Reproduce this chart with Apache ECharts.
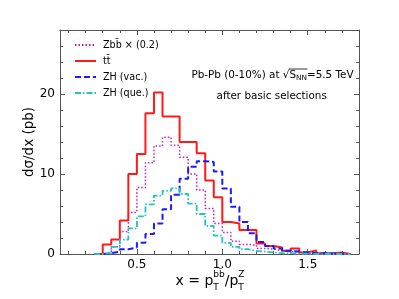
<!DOCTYPE html>
<html><head><meta charset="utf-8">
<script src="https://cdn.jsdelivr.net/npm/echarts@6/dist/echarts.min.js"></script>
<style>html,body{margin:0;padding:0;background:#fff}#c{width:399px;height:299px}</style>
</head><body><div id="c"></div>
<script>
// ---- data (bin starts, width 0.05) ----
const binStarts = [0.25,0.30,0.35,0.40,0.45,0.50,0.55,0.60,0.65,0.70,0.75,0.80,0.85,0.90,0.95,1.00,1.05,1.10,1.15,1.20,1.25,1.30,1.35,1.40,1.45,1.50,1.55,1.60,1.65,1.70];
const binEnd = 1.75;
const zbbScaled = [0,0.2,0.9,2.8,5.2,8.3,11.4,13.5,14.6,13.6,12.1,10.0,8.0,5.7,3.8,2.7,1.6,1.2,1.1,0.7,0.6,0.4,0.3,0.2,0.1,0.1,0.05,0.05,0,0];
const ttbar     = [0,1.2,1.8,4.2,10.0,12.5,17.6,20.2,17.2,17.2,14.0,14.0,12.6,9.2,7.1,4.0,3.8,3.0,3.0,1.3,1.0,0.8,0.4,0.7,0.2,0.45,0.1,0.1,0.2,0];
const zhVac     = [0,0.1,0.3,0.6,0.8,1.4,2.5,3.8,5.6,7.4,9.4,10.9,11.6,11.5,10.3,8.2,5.9,4.0,2.6,1.5,1.0,0.7,0.4,0.3,0.2,0.1,0.1,0.05,0.05,0];
const zhQue     = [0,0.1,0.9,1.8,3.2,4.7,6.2,7.3,7.9,8.2,7.5,6.3,5.0,3.5,2.3,1.4,0.9,0.6,0.4,0.3,0.2,0.1,0.1,0.05,0.05,0,0,0,0,0];
const seriesNames = ['Zbb\u0304 \u00d7 (0.2)', 'tt\u0304', 'ZH (vac.)', 'ZH (que.)'];
const xRange = [0.05, 1.8];
const yRange = [0, 28];
const yTickStep = 10;
const xTickStep = 0.5;
const yTitle = 'd\u03c3/dx (pb)';
const annot1 = ['Pb-Pb (0-10%) at ', '\u221A', 'S', 'NN', '=5.5 TeV'];
const annot2 = 'after basic selections';

function hist(vals){
  const pts = binStarts.map((x,i)=>[x, vals[i]]);
  pts.push([binEnd, 0]);
  return pts;
}

const mc = document.createElement('canvas').getContext('2d');
function tw(s, size){ mc.font = size + 'px "DejaVu Sans"'; return mc.measureText(s).width; }
function T(x, y, s, size, opt){
  opt = opt || {};
  return {type:'text', x:x, y:y, rotation: opt.rotation || 0, silent:true, z:100,
    style:{text:s, fontSize:size, fontFamily:'DejaVu Sans', fill:'#000', align: opt.align || 'left', verticalAlign: 'middle'}};
}
const graphics = [];
const AF = 10.4;
// annotation line 1
(function(){
  const parts = [[annot1[0],AF,0],[annot1[1],AF,0],[annot1[2],AF,0],[annot1[3],7.3,2.6],[annot1[4],AF,0]];
  const tot = parts.reduce((a,p)=>a+tw(p[0],p[1]),0);
  let cx = 272.5 - tot/2, sStart = 0, nnEnd = 0;
  parts.forEach((p,i)=>{
    if(i===2) sStart = cx;
    graphics.push(T(cx, 75.7 + p[2], p[0], p[1]));
    cx += tw(p[0],p[1]);
    if(i===3) nnEnd = cx;
  });
  graphics.push({type:'line', silent:true, z:100, shape:{x1:sStart-0.5, y1:69.0, x2:nnEnd+0.5, y2:69.0}, style:{stroke:'#000', lineWidth:0.8}});
  graphics.push(T(271.7, 96.3, annot2, AF, {align:'center'}));
})();
// x axis title: x = p_T^{bb̄} / p_T^Z
(function(){
  const M = 14, S = 9;
  const a = 'x = p', sup1 = 'bb\u0304', sub = 'T', b = '/p', sup2 = 'Z';
  const w1 = Math.max(tw(sup1,S), tw(sub,S)), w2 = Math.max(tw(sup2,S), tw(sub,S));
  const tot = tw(a,M) + w1 + tw(b,M) + w2;
  let cx = 210 - tot/2;
  const ym = 281, ysup = 274.5, ysub = 287.5;
  graphics.push(T(cx, ym, a, M)); cx += tw(a,M);
  graphics.push(T(cx, ysup, sup1, S)); graphics.push(T(cx, ysub, sub, S)); cx += w1;
  graphics.push(T(cx, ym, b, M)); cx += tw(b,M);
  graphics.push(T(cx, ysup, sup2, S)); graphics.push(T(cx, ysub, sub, S));
})();
graphics.push(T(29, 142, yTitle, 13.5, {align:'center', rotation: Math.PI/2}));

const axisLineStyle = {color:'#555', width:1};
function xAx(pos, showLabel){
  return {type:'value', position:pos, min:xRange[0], max:xRange[1], splitNumber:4, minInterval:xTickStep, maxInterval:xTickStep,
    axisLine:{show:true, onZero:false, lineStyle:axisLineStyle},
    axisTick:{show:true, inside:true, length:5, lineStyle:{color:'#555'}},
    minorTick:{show:true, splitNumber:5, length:3, lineStyle:{color:'#555'}},
    splitLine:{show:false}, minorSplitLine:{show:false},
    axisLabel:{show:showLabel, showMinLabel:false, showMaxLabel:false, color:'#000', fontSize:12, fontFamily:'DejaVu Sans', margin:5,
      formatter:(v)=>v.toFixed(1)}};
}
function yAx(pos, showLabel){
  return {type:'value', position:pos, min:yRange[0], max:yRange[1], interval:yTickStep,
    axisLine:{show:true, onZero:false, lineStyle:axisLineStyle},
    axisTick:{show:true, inside:true, length:5, lineStyle:{color:'#555'}},
    minorTick:{show:true, splitNumber:5, length:3, lineStyle:{color:'#555'}},
    splitLine:{show:false}, minorSplitLine:{show:false},
    axisLabel:{show:showLabel, showMaxLabel:false, color:'#000', fontSize:12, fontFamily:'DejaVu Sans', margin:5}};
}
function ser(name, vals, color, width, type){
  return {type:'line', name:name, step:'end', data:hist(vals), symbol:'none', showSymbol:false,
    lineStyle:{color:color, width:width, type:type}, itemStyle:{color:color}, clip:true, animation:false};
}
const chart = echarts.init(document.getElementById('c'), null, {renderer:'canvas'});
chart.setOption({
  animation:false,
  backgroundColor:'#fff',
  grid:{left:60, right:40, top:30, bottom:45, containLabel:false},
  xAxis:[xAx('bottom', true), xAx('top', false)],
  yAxis:[yAx('left', true), yAx('right', false)],
  legend:{orient:'vertical', left:69, top:35, itemWidth:21, itemHeight:10, itemGap:6,
    itemStyle:{opacity:0, borderWidth:0},
    textStyle:{fontSize:9.6, fontFamily:'DejaVu Sans', color:'#000', padding:[0,0,0,2]},
    data:seriesNames},
  series:[
    ser(seriesNames[0], zbbScaled, '#c020c8', 1.5, [1.5,2]),
    ser(seriesNames[1], ttbar, '#ff1a1a', 2, 'solid'),
    ser(seriesNames[2], zhVac, '#1a1aff', 2, [6,3]),
    ser(seriesNames[3], zhQue, '#22c4c4', 1.8, [6,2,1.5,2])
  ],
  graphic: graphics
});
</script></body></html>
